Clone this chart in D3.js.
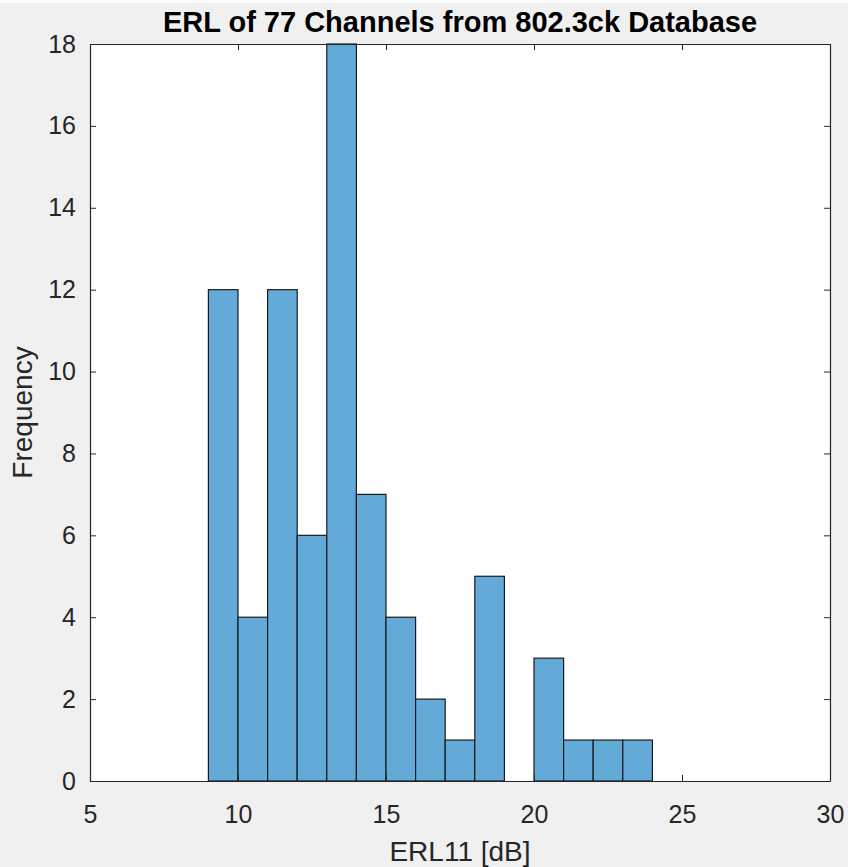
<!DOCTYPE html>
<html>
<head>
<meta charset="utf-8">
<script src="https://cdn.jsdelivr.net/npm/d3@7"></script>
<style>
  body { margin: 0; background: #f0f0f0; }
  text { font-family: "Liberation Sans", Arial, sans-serif; fill: #262626; }
</style>
</head>
<body>
<div id="chart"></div>
<script>
// histogram bins (1 dB wide) and their counts
var binEdges = [9, 10, 11, 12, 13, 14, 15, 16, 17, 18, 19, 20, 21, 22, 23, 24];
var counts = [12, 4, 12, 6, 18, 7, 4, 2, 1, 5, 0, 3, 1, 1, 1];
var xTicks = [5, 10, 15, 20, 25, 30];
var yTicks = [0, 2, 4, 6, 8, 10, 12, 14, 16, 18];

var W = 848, H = 867;
var margin = { top: 44, right: 18, bottom: 86, left: 90 };
var width = W - margin.left - margin.right,
    height = H - margin.top - margin.bottom;

var svg = d3.select("#chart")
  .append("svg")
  .attr("width", W)
  .attr("height", H);

// thin lighter strip along the very top of the window
svg.append("rect").attr("width", W).attr("height", 3).attr("fill", "#fafafa");

var g = svg.append("g")
  .attr("transform", "translate(" + margin.left + "," + margin.top + ")");

var x = d3.scaleLinear().domain([5, 30]).range([0, width]);
var y = d3.scaleLinear().domain([0, 18]).range([height, 0]);

g.append("rect")
  .attr("width", width).attr("height", height)
  .attr("fill", "white");

var bins = counts.map(function(c, i) {
  return { x0: binEdges[i], x1: binEdges[i + 1], n: c };
}).filter(function(d) { return d.n > 0; });

g.selectAll("rect.bar")
  .data(bins)
  .enter()
  .append("rect")
    .attr("class", "bar")
    .attr("x", function(d) { return x(d.x0); })
    .attr("y", function(d) { return y(d.n); })
    .attr("width", function(d) { return x(d.x1) - x(d.x0); })
    .attr("height", function(d) { return height - y(d.n); })
    .attr("fill", "#64aad8")
    .attr("stroke", "#1a1a1a")
    .attr("stroke-width", 1.2);

// axes, ticks pointing inward, box on all four sides
function styleAxis(sel) {
  sel.attr("font-size", 25).attr("font-family", "'Liberation Sans', Arial, sans-serif");
  sel.select(".domain").attr("stroke", "#262626").attr("stroke-width", 1.2);
  sel.selectAll(".tick line").attr("stroke", "#262626");
  sel.selectAll(".tick text").attr("fill", "#262626");
}

g.append("g")
  .attr("transform", "translate(0," + height + ")")
  .call(d3.axisBottom(x).tickValues(xTicks).tickSize(-6).tickSizeOuter(0).tickPadding(24))
  .call(styleAxis);

g.append("g")
  .call(d3.axisTop(x).tickValues(xTicks).tickSize(-6).tickSizeOuter(0).tickFormat(""))
  .call(styleAxis);

g.append("g")
  .call(d3.axisLeft(y).tickValues(yTicks).tickSize(-6).tickSizeOuter(0).tickPadding(14))
  .call(styleAxis);

g.append("g")
  .attr("transform", "translate(" + width + ",0)")
  .call(d3.axisRight(y).tickValues(yTicks).tickSize(-6).tickSizeOuter(0).tickFormat(""))
  .call(styleAxis);

// title and labels
svg.append("text")
  .attr("x", margin.left + width / 2)
  .attr("y", 32)
  .attr("text-anchor", "middle")
  .style("font-size", "29px")
  .style("font-weight", "bold")
  .style("fill", "#000")
  .text("ERL of 77 Channels from 802.3ck Database");

svg.append("text")
  .attr("x", margin.left + width / 2)
  .attr("y", 861)
  .attr("text-anchor", "middle")
  .style("font-size", "28px")
  .text("ERL11 [dB]");

svg.append("text")
  .attr("transform", "translate(32," + (margin.top + height / 2) + ") rotate(-90)")
  .attr("text-anchor", "middle")
  .style("font-size", "28px")
  .text("Frequency");
</script>
</body>
</html>
